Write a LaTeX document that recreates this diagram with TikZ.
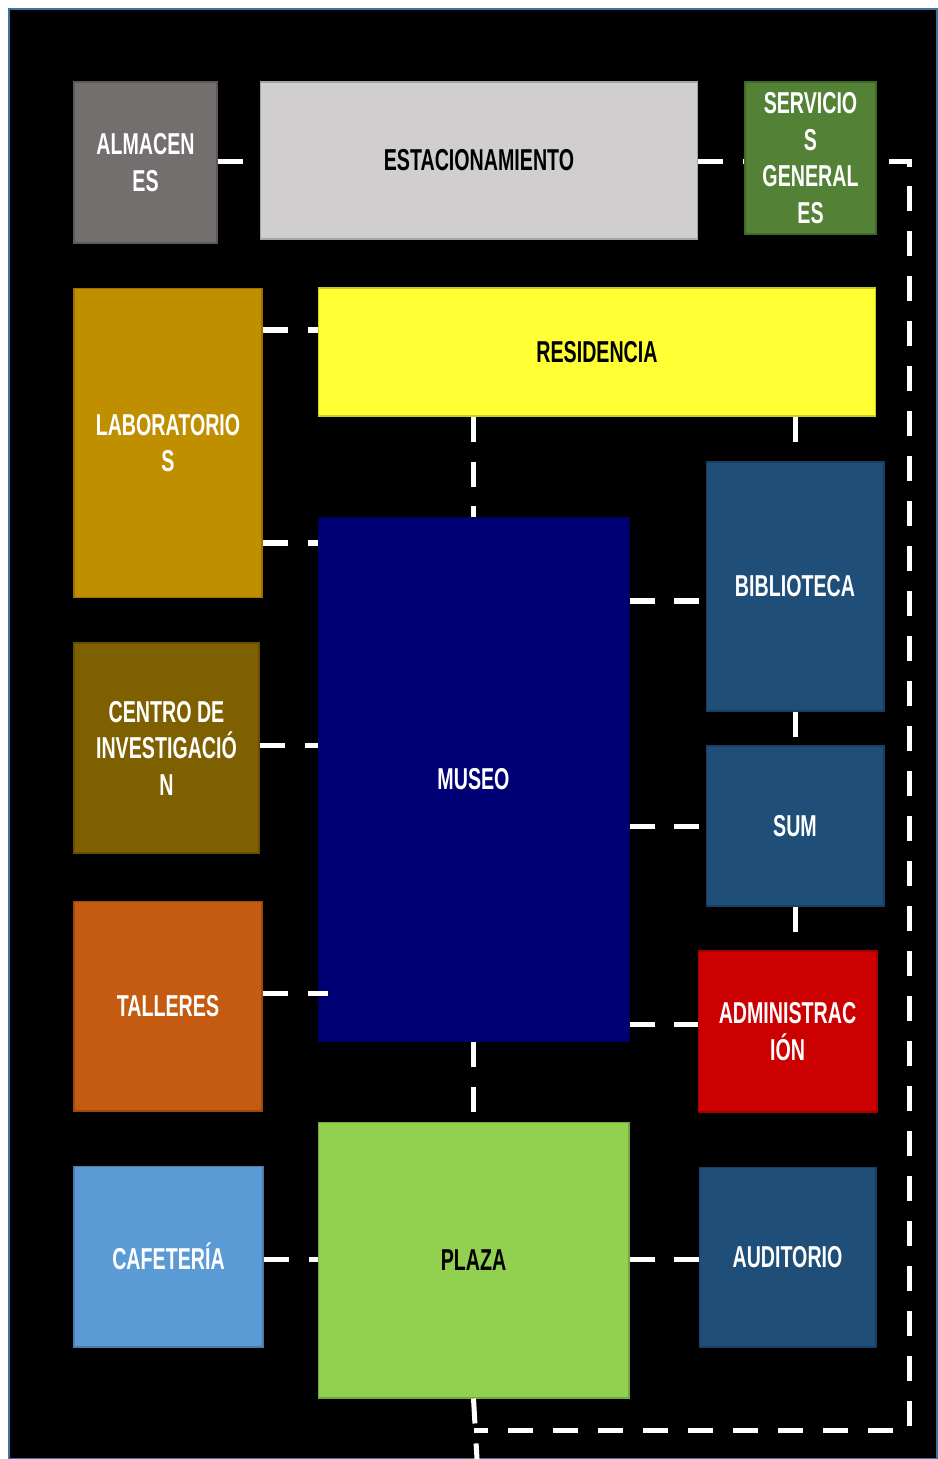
\documentclass[tikz,border=0pt]{standalone}
\usepackage{fontspec}
\newfontfamily\agency[FakeStretch=0.65]{Liberation Sans}
\usetikzlibrary{calc}

\definecolor{frameblue}{HTML}{41719C}
\definecolor{almgray}{HTML}{736F6E}
\definecolor{estgray}{HTML}{D0CECE}
\definecolor{servgreen}{HTML}{538135}
\definecolor{labgold}{HTML}{BF8F00}
\definecolor{resyellow}{HTML}{FFFF33}
\definecolor{musnavy}{HTML}{000075}
\definecolor{bibblue}{HTML}{1F4E79}
\definecolor{cenbrown}{HTML}{7F6000}
\definecolor{taloran}{HTML}{C55A11}
\definecolor{admred}{HTML}{CC0000}
\definecolor{cafblue}{HTML}{5B9BD5}
\definecolor{plzgreen}{HTML}{92D050}

\begin{document}
\begin{tikzpicture}[
    x=0.02cm, y=-0.02cm,
    font=\agency\bfseries\fontsize{17.2}{20.8}\selectfont,
    room/.style={
        draw=#1!80!black,
        line width=0.6pt,
        fill=#1,
        inner sep=0pt,
        align=center,
        text=white
    },
    link/.style={
        draw=white,
        line width=2.85pt,
        dash pattern=on 0.5cm off 0.4cm
    }
]

\useasboundingbox (0,0) rectangle (937,1459);
\filldraw[fill=black, draw=frameblue, line width=1.2pt] (9,9) rectangle (937,1459);

% top row
\node[room=almgray, minimum width=2.86cm, minimum height=3.22cm] (alm) at (145.5,162.5)
{ALMACEN\\ES};
\node[room=estgray, text=black, minimum width=8.76cm, minimum height=3.14cm] (est) at (479,160.5)
{ESTACIONAMIENTO};
\node[room=servgreen, minimum width=2.62cm, minimum height=3.04cm] (serv) at (810.5,158)
{SERVICIO\\S\\GENERAL\\ES};

% residencia band
\node[room=labgold, minimum width=3.76cm, minimum height=6.2cm] (lab) at (168,443)
{LABORATORIO\\S};
\node[room=resyellow, text=black, minimum width=11.16cm, minimum height=2.56cm] (res) at (597,352)
{RESIDENCIA};

% museo and its sides
\node[room=musnavy, minimum width=6.22cm, minimum height=10.5cm] (mus) at (473.5,779.5)
{MUSEO};
\node[room=bibblue, minimum width=3.56cm, minimum height=4.98cm] (bib) at (795,586.5)
{BIBLIOTECA};
\node[room=cenbrown, minimum width=3.7cm, minimum height=4.2cm] (cen) at (166.5,748)
{CENTRO DE\\INVESTIGACIÓ\\N};
\node[room=bibblue, minimum width=3.56cm, minimum height=3.2cm] (sum) at (795,826)
{SUM};
\node[room=taloran, minimum width=3.76cm, minimum height=4.2cm] (tal) at (168,1006)
{TALLERES};
\node[room=admred, minimum width=3.58cm, minimum height=3.22cm] (adm) at (787.5,1031.5)
{ADMINISTRAC\\IÓN};

% bottom row
\node[room=cafblue, minimum width=3.78cm, minimum height=3.62cm] (caf) at (168.5,1256.5)
{CAFETERÍA};
\node[room=plzgreen, text=black, minimum width=6.22cm, minimum height=5.52cm] (plz) at (473.5,1260)
{PLAZA};
\node[room=bibblue, minimum width=3.54cm, minimum height=3.6cm] (aud) at (787.5,1257)
{AUDITORIO};

% corridors
\coordinate (cne) at (909,162);
\coordinate (cse) at (909,1430);
\coordinate (exit) at (477,1459);

\draw[link] (alm.east |- 0,162) -- (est.west |- 0,162);
\draw[link] (est.east |- 0,162) -- (serv.west |- 0,162);
\draw[link, dash phase=0.66cm] (serv.east |- cne) -- (cne) -- (cse) -- (plz.south |- cse);
\draw[link] (plz.south) -- (exit);

\draw[link] (lab.east |- 0,330) -- (res.west |- 0,330);
\draw[link] (lab.east |- 0,543) -- (mus.west |- 0,543);
\draw[link] (mus.north |- res.south) -- (mus.north);
\draw[link] (bib.north |- res.south) -- (bib.north);

\draw[link] (mus.east |- 0,601) -- (bib.west |- 0,601);
\draw[link] (cen.east |- 0,745) -- (mus.west |- 0,745);
\draw[link] (bib.south) -- (sum.north);
\draw[link] (mus.east |- sum.west) -- (sum.west);
\draw[link] (sum.south) -- (sum.south |- adm.north);
\draw[link] (tal.east |- 0,993) -- ($(mus.west |- 0,993)+(10,0)$);
\draw[link] (mus.east |- 0,1024) -- (adm.west |- 0,1024);
\draw[link] (mus.south) -- (plz.north);

\draw[link] (caf.east |- 0,1259) -- (plz.west |- 0,1259);
\draw[link] (plz.east |- 0,1259) -- (aud.west |- 0,1259);

\end{tikzpicture}
\end{document}
